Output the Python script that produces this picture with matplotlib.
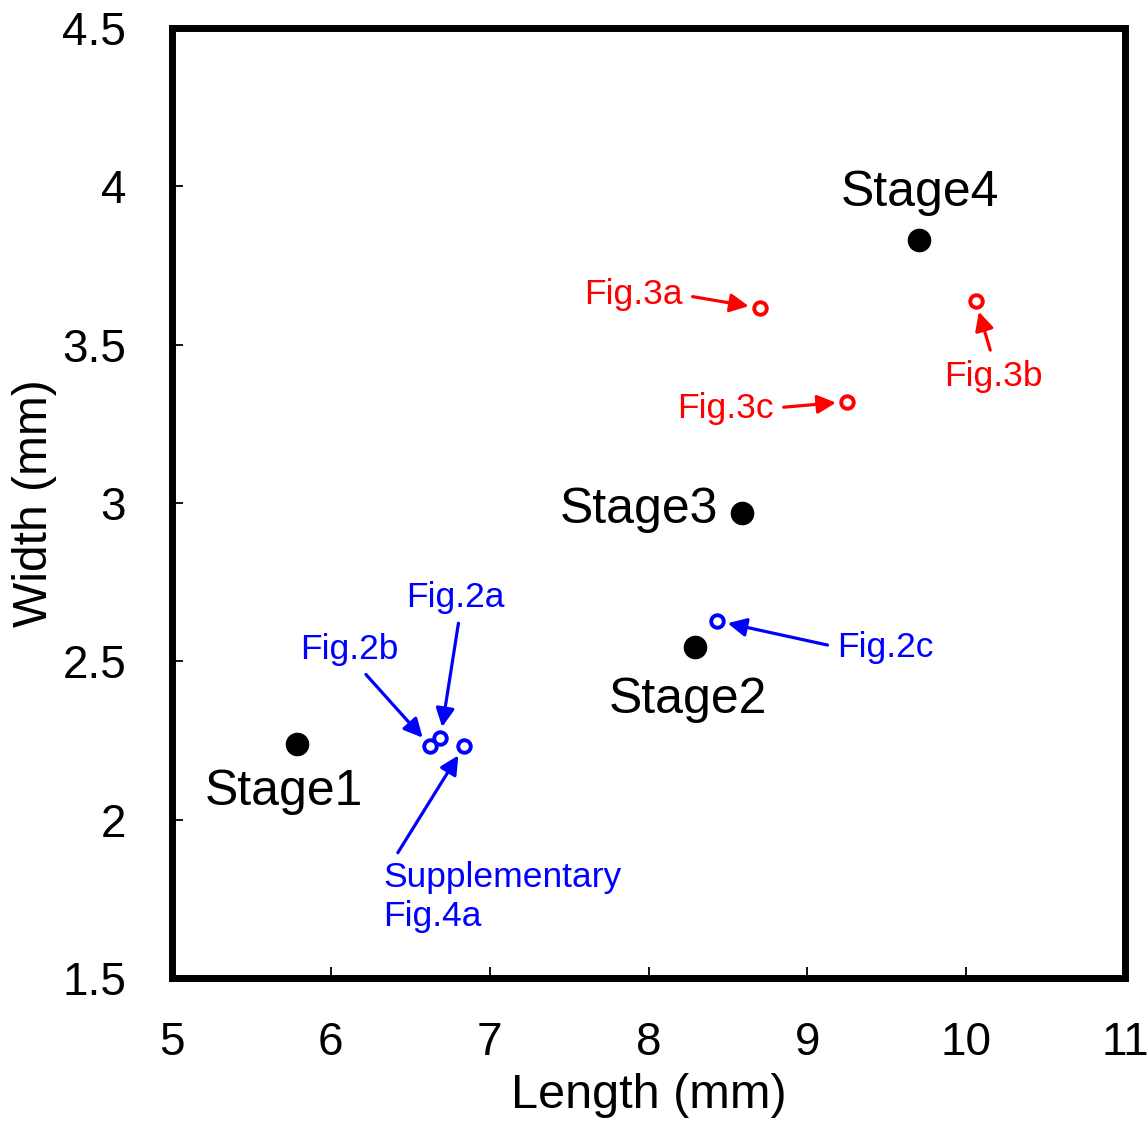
import matplotlib
matplotlib.use("Agg")
import matplotlib.pyplot as plt

plt.rcParams['font.family'] = ['Liberation Sans', 'DejaVu Sans']

# stage averages (black filled)
stage_names = ["Stage1", "Stage2", "Stage3", "Stage4"]
stage_len = [5.79, 8.29, 8.59, 9.70]
stage_wid = [2.24, 2.545, 2.97, 3.83]

# red figures
red_names = ["Fig.3a", "Fig.3b", "Fig.3c"]
red_len = [8.70, 10.06, 9.25]
red_wid = [3.616, 3.638, 3.32]

# blue figures
blue_names = ["Fig.2a", "Fig.2b", "Supplementary\nFig.4a", "Fig.2c"]
blue_len = [6.69, 6.625, 6.84, 8.43]
blue_wid = [2.258, 2.233, 2.233, 2.628]

x_ticks = [5, 6, 7, 8, 9, 10, 11]
y_ticks = [1.5, 2, 2.5, 3, 3.5, 4, 4.5]

# label placement (data coords), alignment, arrow start on the text box
stage_text = [(5.705, 2.087, 'center'), (8.249, 2.378, 'center'),
              (8.438, 2.978, 'right'), (9.709, 3.979, 'center')]
red_text = [(8.217, 3.657, 'right', (1, 0.5)), (10.169, 3.401, 'center', (0.5, 1)),
            (8.790, 3.300, 'right', (1, 0.5))]
blue_text = [(6.782, 2.703, 'center', (0.55, 0)), (6.114, 2.536, 'center', (0.6, 0)),
             (6.328, 1.756, 'left', (0.04, 1)), (9.187, 2.545, 'left', (0, 0.5))]


def main():
    fig = plt.figure(figsize=(11.48, 11.22), dpi=100)
    ax = fig.add_axes([0.1498, 0.1283, 0.8302, 0.8467])

    ax.plot(stage_len, stage_wid, 'o', color='black', markersize=16, zorder=3)
    ax.plot(red_len, red_wid, 'o', mfc='white', mec='red', mew=2.8, markersize=9, zorder=3)
    ax.plot(blue_len, blue_wid, 'o', mfc='white', mec='blue', mew=2.8, markersize=9, zorder=3)

    for name, (tx, ty, ha) in zip(stage_names, stage_text):
        ax.text(tx, ty, name, fontsize=36, ha=ha, va='center', color='black')

    for names, xs, ys, pos, col in [(red_names, red_len, red_wid, red_text, 'red'),
                                    (blue_names, blue_len, blue_wid, blue_text, 'blue')]:
        for name, x, y, (tx, ty, ha, rp) in zip(names, xs, ys, pos):
            ax.annotate(name, xy=(x, y), xytext=(tx, ty), fontsize=25.5, color=col,
                        ha=ha, va='center', multialignment='left',
                        arrowprops=dict(arrowstyle='-|>', lw=2.3, mutation_scale=28,
                                        shrinkA=5, shrinkB=8, relpos=rp, color=col))

    ax.set_xlim(5, 11)
    ax.set_ylim(1.5, 4.5)
    ax.set_xticks(x_ticks)
    ax.set_yticks(y_ticks)
    ax.set_yticklabels([f"{v:g}" for v in y_ticks])
    ax.tick_params(direction='in', length=8, width=1.3, labelsize=33)
    ax.tick_params(axis='x', pad=31)
    ax.tick_params(axis='y', pad=33)
    for s in ax.spines.values():
        s.set_linewidth(5)

    ax.set_xlabel("Length (mm)", fontsize=35, labelpad=6)
    ax.set_ylabel("Width (mm)", fontsize=34.5, labelpad=4)

    fig.savefig("out.png", dpi=100)
    plt.close(fig)


if __name__ == "__main__":
    main()
